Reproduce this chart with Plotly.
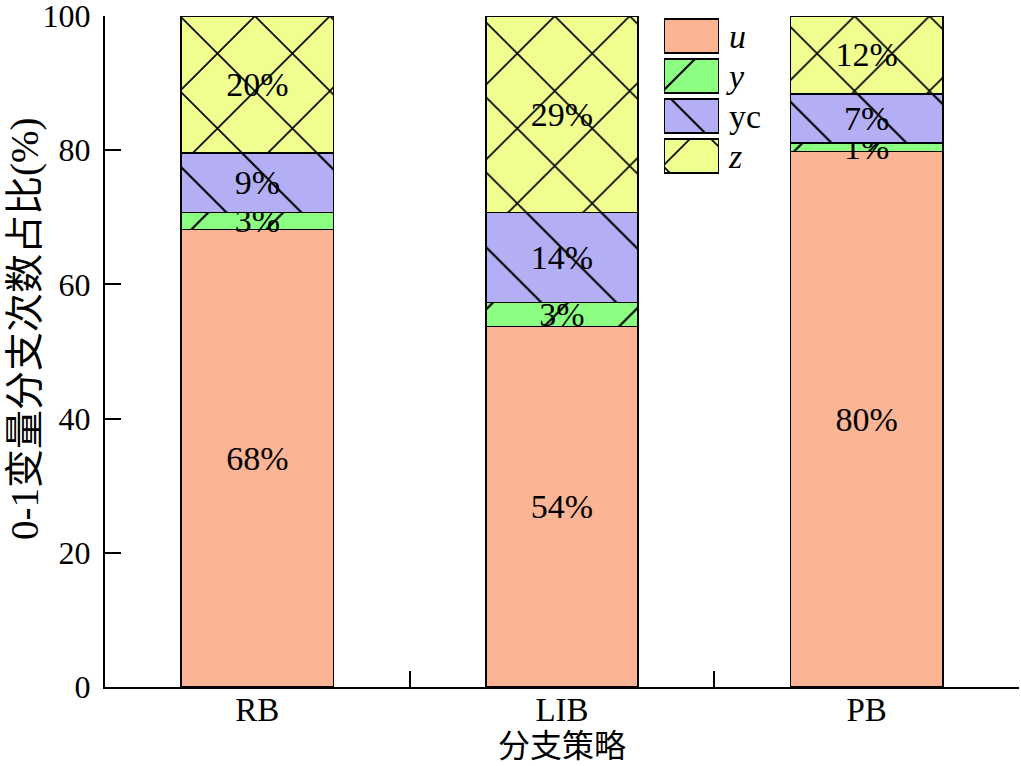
import plotly.graph_objects as go

# ---------------- data ----------------
categories = ["RB", "LIB", "PB"]
series_names = ["u", "y", "yc", "z"]
legend_text = ["<i>u</i>", "<i>y</i>", "yc", "<i>z</i>"]
u_vals = [68.2, 53.7, 79.8]
y_vals = [2.5, 3.6, 1.3]
yc_vals = [8.9, 13.4, 7.3]
z_vals = [20.4, 29.3, 11.6]
u_labels = [68, 54, 80]
y_labels = [3, 3, 1]
yc_labels = [9, 14, 7]
z_labels = [20, 29, 12]
y_ticks = [0, 20, 40, 60, 80, 100]
y_title = "0-1变量分支次数占比(%)"
x_title = "分支策略"

# ---------------- style ----------------
colors = ["#FBB494", "#8CFF82", "#B4AEF5", "#F0FE90"]
patterns = ["", "/", "\\", "x"]
solidities = [0.0, 0.04, 0.04, 0.06]
PAT_SIZE = 53
FONT = "Liberation Serif, Times New Roman, Noto Sans CJK SC, serif"
FS_BAR = 34
FS_YT = 32
FS_XT = 33

values = [u_vals, y_vals, yc_vals, z_vals]
labels = [u_labels, y_labels, yc_labels, z_labels]

fig = go.Figure()
for name, vals, labs, col, pat, sol in zip(series_names, values, labels, colors, patterns, solidities):
    fig.add_trace(go.Bar(
        x=categories, y=vals, name=name,
        width=0.5,
        text=[f"{v}%" for v in labs],
        textposition="inside", insidetextanchor="middle", textangle=0,
        constraintext="none",
        textfont=dict(family=FONT, size=FS_BAR, color="black"),
        marker=dict(
            color=col,
            line=dict(color="black", width=1.5),
            pattern=dict(shape=pat, bgcolor=col, fgcolor="black",
                         size=PAT_SIZE, solidity=sol, fillmode="replace"),
        ),
        showlegend=False, hoverinfo="skip",
        xaxis="x", yaxis="y",
    ))

# custom legend swatches drawn as an inset horizontal bar chart
for name, col, pat, sol in zip(series_names, colors, patterns, solidities):
    fig.add_trace(go.Bar(
        y=[name], x=[1], orientation="h",
        width=0.85,
        marker=dict(
            color=col,
            line=dict(color="black", width=1.5),
            pattern=dict(shape=pat, bgcolor=col, fgcolor="black",
                         size=PAT_SIZE, solidity=sol, fillmode="replace"),
        ),
        showlegend=False, hoverinfo="skip",
        xaxis="x2", yaxis="y2",
    ))

fig.add_annotation(
    text=y_title, textangle=-90,
    xref="paper", yref="paper", x=-0.0875, y=0.5335,
    xanchor="center", yanchor="middle", showarrow=False,
    font=dict(family=FONT, size=39, color="black"),
)

fig.update_layout(
    width=1021, height=766,
    margin=dict(l=105, r=2, t=16, b=79, autoexpand=False),
    plot_bgcolor="white", paper_bgcolor="white",
    barmode="stack",
    uniformtext=dict(minsize=FS_BAR, mode="show"),
    font=dict(family=FONT, size=FS_YT, color="black"),
    xaxis=dict(
        type="category", range=[-0.5, 2.5],
        tickson="boundaries", ticks="inside", ticklen=16, tickwidth=1.5, tickcolor="black",
        showline=True, linewidth=2, linecolor="black",
        showgrid=False, zeroline=False, automargin=False,
        ticklabelstandoff=-8,
        tickfont=dict(family=FONT, size=FS_XT, color="black"),
        title=dict(text=x_title, font=dict(family=FONT, size=32, color="black"), standoff=8),
    ),
    yaxis=dict(
        range=[0, 100], tickvals=y_ticks,
        ticks="inside", ticklen=16, tickwidth=1.5, tickcolor="black",
        showline=True, linewidth=2, linecolor="black",
        showgrid=False, zeroline=False, automargin=False,
        ticklabelstandoff=6, ticklabeloverflow="allow",
        tickfont=dict(family=FONT, size=FS_YT, color="black"),
    ),
    xaxis2=dict(
        domain=[0.6105, 0.673], anchor="y2", range=[-0.03, 1.03],
        showgrid=False, zeroline=False, showline=False, showticklabels=False, ticks="",
        automargin=False,
    ),
    yaxis2=dict(
        domain=[0.7616, 1.0], anchor="x2", side="right",
        categoryorder="array", categoryarray=series_names,
        autorange="reversed",
        tickvals=series_names, ticktext=legend_text,
        showgrid=False, zeroline=False, showline=False, ticks="",
        ticklabelstandoff=8, automargin=False,
        tickfont=dict(family=FONT, size=FS_BAR, color="black"),
    ),
)

fig.write_html("out.html")
